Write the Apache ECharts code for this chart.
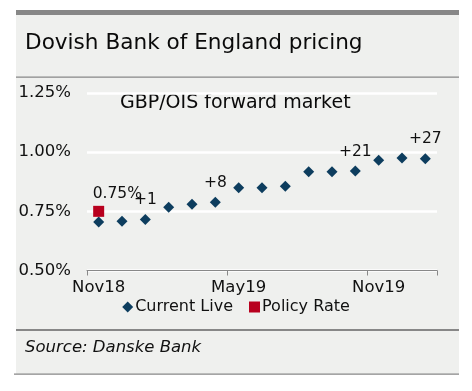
<!DOCTYPE html>
<html><head><meta charset="utf-8">
<script src="https://cdn.jsdelivr.net/npm/echarts@6/dist/echarts.min.js"></script>
<style>html,body{margin:0;padding:0;background:#fff}#c{width:472px;height:391px}</style>
</head><body><div id="c"></div>
<script>
const categories = ['Nov18','Dec18','Jan19','Feb19','Mar19','Apr19','May19','Jun19','Jul19','Aug19','Sep19','Oct19','Nov19','Dec19','Jan20'];
const currentLive = [0.705,0.708,0.716,0.767,0.780,0.788,0.850,0.850,0.856,0.917,0.917,0.920,0.966,0.975,0.972];
const changeLabels = ['','','+1','','','+8','','','','','','+21','','','+27'];
const policyRate = [0.75,null,null,null,null,null,null,null,null,null,null,null,null,null,null];
const yTicks = [0.50,0.75,1.00,1.25];
const FONT = 'DejaVu Sans';
const chart = echarts.init(document.getElementById('c'));
chart.setOption({
  animation:false,
  backgroundColor:'#ffffff',
  textStyle:{fontFamily:FONT},
  graphic:[
    {type:'rect',shape:{x:16,y:10,width:443,height:364},style:{fill:'#eff0ee'},z:-10},
    {type:'rect',shape:{x:16,y:10,width:443,height:5},style:{fill:'#878787'},z:-9},
    {type:'rect',shape:{x:16,y:76.5,width:443,height:1.2},style:{fill:'#878787'},z:-9},
    {type:'rect',shape:{x:16,y:329,width:443,height:2},style:{fill:'#878787'},z:-9},
    {type:'rect',shape:{x:14,y:373.5,width:445,height:1.2},style:{fill:'#878787'},z:-9},
    {type:'text',left:25,top:32,style:{text:'Dovish Bank of England pricing',fontFamily:FONT,fontSize:21.6,fill:'#0a0a0a'}},
    {type:'text',left:120,top:94,style:{text:'GBP/OIS forward market',fontFamily:FONT,fontSize:19,fill:'#0a0a0a'}},
    {type:'text',left:25,top:339,style:{text:'Source: Danske Bank',fontFamily:FONT,fontSize:16.5,fontStyle:'italic',fill:'#111'}}
  ],
  grid:{left:87,right:35,top:93,bottom:120.5,containLabel:false},
  legend:{
    top:294,left:'center',itemGap:16,itemWidth:11,itemHeight:11,
    textStyle:{fontFamily:FONT,fontSize:16,color:'#111',padding:[0,0,0,-3]},
    data:[{name:'Current Live',icon:'diamond'},{name:'Policy Rate',icon:'rect'}]
  },
  xAxis:{
    type:'category',data:categories,boundaryGap:true,
    axisLine:{lineStyle:{color:'#888',width:1}},
    axisTick:{show:true,interval:(i)=>i%6===0,length:5,lineStyle:{color:'#888'}},
    axisLabel:{interval:5,fontFamily:FONT,fontSize:16.5,color:'#111',margin:9},
    splitLine:{show:false}
  },
  yAxis:{
    type:'value',min:yTicks[0],max:yTicks[yTicks.length-1],interval:0.25,
    axisLine:{show:false},axisTick:{show:false},
    axisLabel:{fontFamily:FONT,fontSize:16.5,color:'#111',margin:16,formatter:v=>v.toFixed(2)+'%'},
    splitLine:{lineStyle:{color:'#ffffff',width:2.5}}
  },
  series:[
    {name:'Current Live',type:'scatter',symbol:'diamond',symbolSize:11,
     itemStyle:{color:'#0d3d5e',opacity:1},
     data:currentLive.map((v,i)=>({value:v,label:{show:changeLabels[i]!=='',formatter:changeLabels[i]}})),
     label:{position:'top',distance:6,fontFamily:FONT,fontSize:15.5,color:'#111'},z:3},
    {name:'Policy Rate',type:'scatter',symbol:'rect',symbolSize:11,
     itemStyle:{color:'#b8001e',opacity:1},
     data:policyRate,
     label:{show:true,position:'top',align:'left',offset:[-6,1],formatter:p=>p.value.toFixed(2)+'%',fontFamily:FONT,fontSize:15.5,color:'#111'},z:4}
  ]
});
</script></body></html>
